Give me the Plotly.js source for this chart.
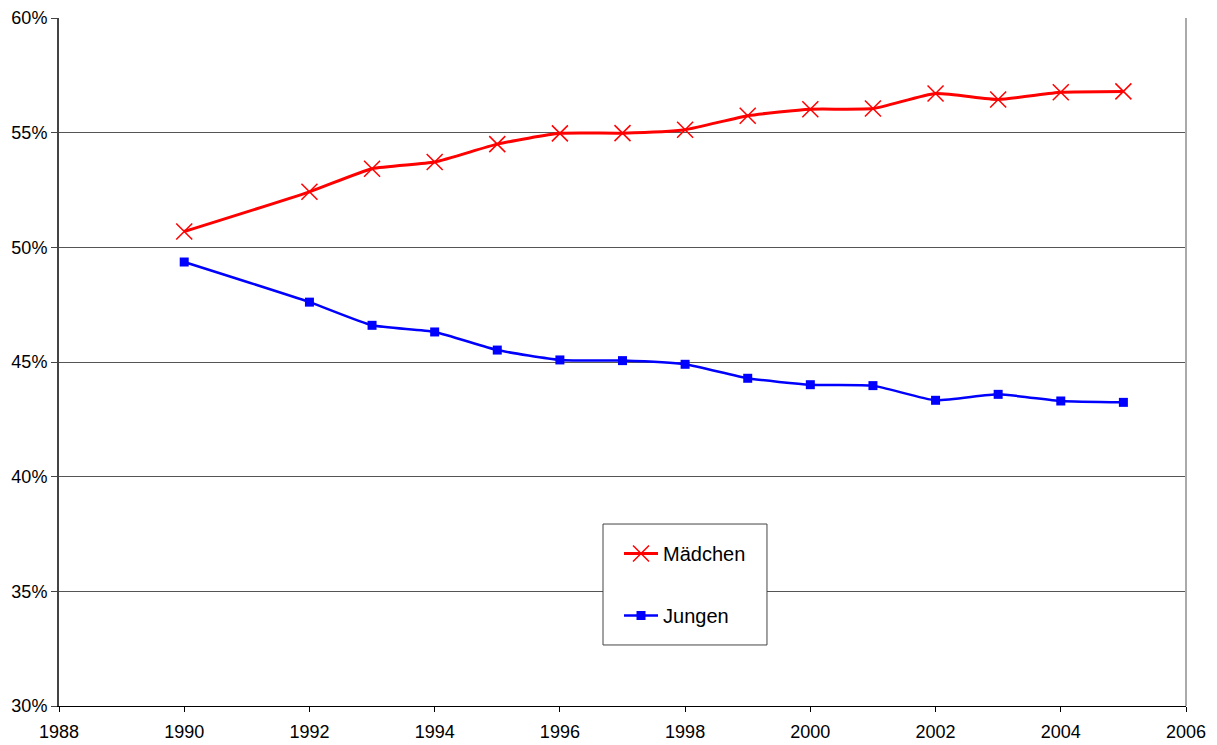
<!DOCTYPE html>
<html>
<head>
<meta charset="utf-8">
<script src="https://cdn.plot.ly/plotly-3.0.1.min.js"></script>
<style>
html,body{margin:0;padding:0;background:#fff;}
#chart{width:1217px;height:745px;}
</style>
</head>
<body>
<div id="chart"></div>
<script>
const years = [1990, 1992, 1993, 1994, 1995, 1996, 1997, 1998, 1999, 2000, 2001, 2002, 2003, 2004, 2005];
const maedchen = [50.69, 52.42, 53.43, 53.72, 54.50, 54.97, 54.98, 55.13, 55.74, 56.02, 56.05, 56.71, 56.45, 56.76, 56.80];
const jungen = [49.36, 47.61, 46.60, 46.31, 45.52, 45.09, 45.06, 44.90, 44.29, 44.01, 43.97, 43.33, 43.59, 43.30, 43.24];
const seriesNames = ['Mädchen', 'Jungen'];
const yTicks = [30, 35, 40, 45, 50, 55, 60];
const yTickText = ['30%', '35%', '40%', '45%', '50%', '55%', '60%'];
const xTicks = [1988, 1990, 1992, 1994, 1996, 1998, 2000, 2002, 2004, 2006];

const traces = [
  {
    x: years, y: maedchen.map(v => v / 100), name: seriesNames[0],
    type: 'scatter', mode: 'lines+markers', legendgroup: 'a',
    line: {color: '#ff0000', width: 3, shape: 'spline', smoothing: 0.5},
    marker: {symbol: 'x-thin-open', size: 16, color: '#ff0000', line: {color: '#ff0000', width: 1.5}}
  },
  {
    x: years, y: jungen.map(v => v / 100), name: seriesNames[1],
    type: 'scatter', mode: 'lines+markers', legendgroup: 'b',
    line: {color: '#0000ff', width: 2.5, shape: 'spline', smoothing: 0.5},
    marker: {symbol: 'square', size: 9, color: '#0000ff'}
  }
];

const layout = {
  width: 1217, height: 745,
  margin: {l: 59, r: 31, t: 18, b: 39},
  paper_bgcolor: '#ffffff', plot_bgcolor: '#ffffff',
  font: {family: 'Liberation Sans, Arial, sans-serif', color: '#000', size: 18},
  xaxis: {
    range: [1988, 2006], tickvals: xTicks, ticktext: xTicks.map(String),
    showgrid: false, zeroline: false, showline: true, linecolor: '#000', linewidth: 1,
    ticks: 'outside', ticklen: 5, tickcolor: '#000', tickfont: {size: 18},
    ticklabelstandoff: 4
  },
  yaxis: {
    range: [0.30, 0.60], tickvals: yTicks.map(v => v / 100), ticktext: yTickText,
    showgrid: true, gridcolor: '#555', gridwidth: 1, zeroline: false,
    showline: true, linecolor: '#444', linewidth: 2,
    ticks: 'outside', ticklen: 6, tickcolor: '#444', tickfont: {size: 18}
  },
  showlegend: true,
  legend: {
    x: 0.4969, y: 0.25, xanchor: 'left', yanchor: 'top',
    bgcolor: 'rgba(0,0,0,0)', borderwidth: 0,
    font: {size: 20}, tracegroupgap: 33, itemwidth: 34
  },
  shapes: [
    {type: 'line', xref: 'paper', yref: 'paper', x0: 1, x1: 1, y0: 0, y1: 1,
     line: {color: '#aaa', width: 2}},
    {type: 'rect', xref: 'paper', yref: 'paper', x0: 0.4827, x1: 0.6282, y0: 0.0887, y1: 0.2645,
     fillcolor: '#ffffff', line: {color: '#444', width: 1}, layer: 'above'}
  ]
};

Plotly.newPlot('chart', traces, layout, {displayModeBar: false, staticPlot: true});
</script>
</body>
</html>
